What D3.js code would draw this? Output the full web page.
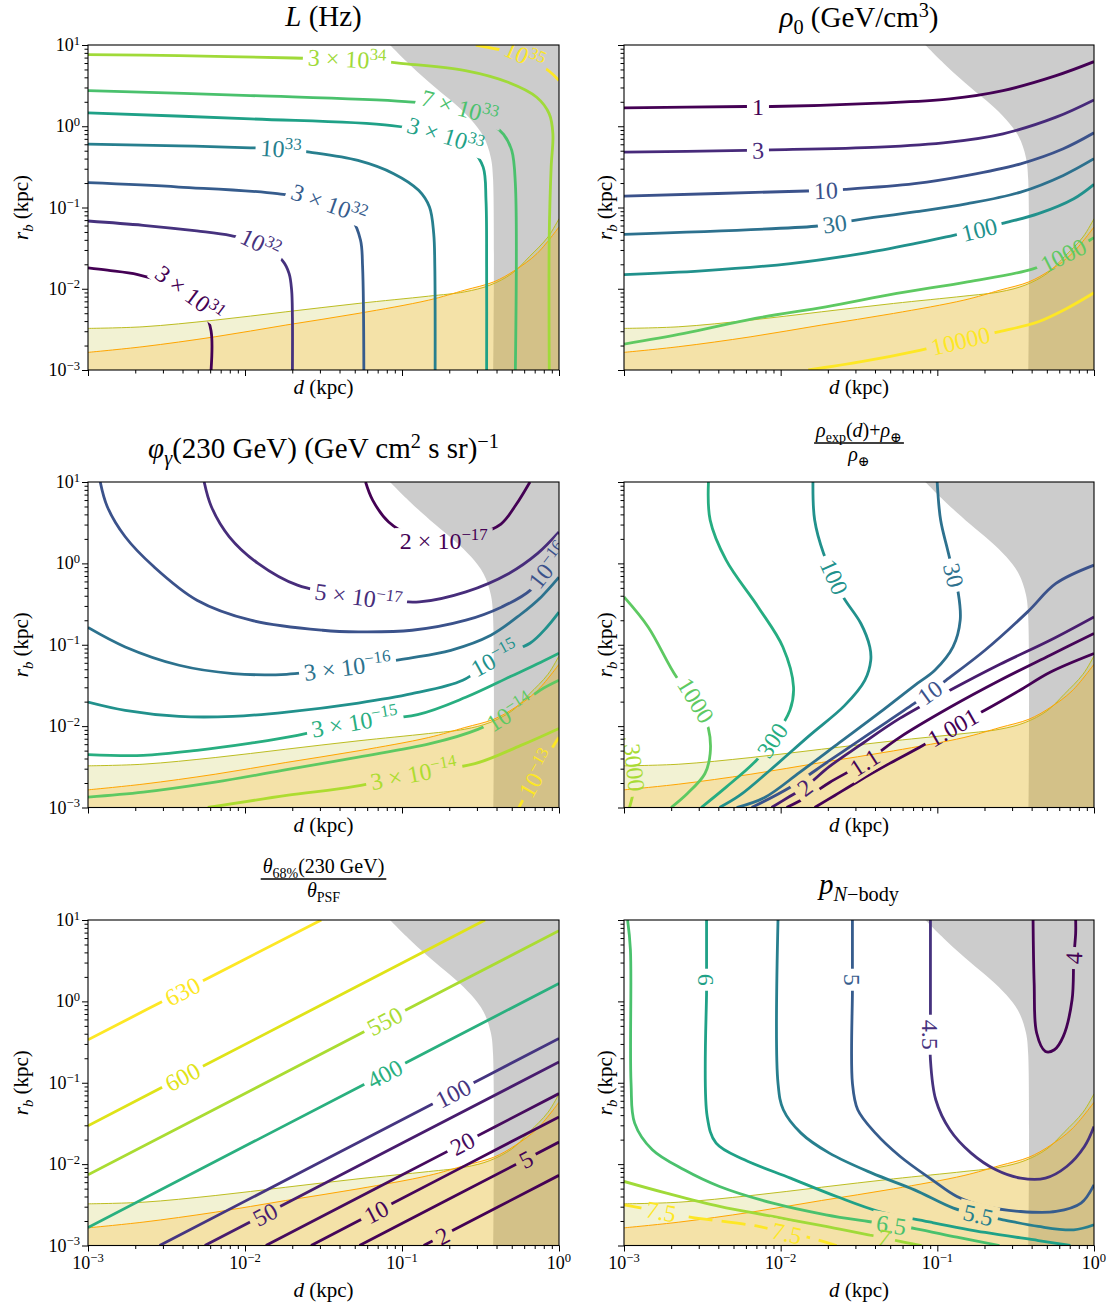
<!DOCTYPE html>
<html>
<head>
<meta charset="utf-8">
<script src="https://cdn.jsdelivr.net/npm/d3@7"></script>
<style>
  body { margin: 0; background: #fff; }
</style>
</head>
<body>
<svg id="chart" width="1116" height="1309"></svg>
<script>
// axis ranges (kpc)
const dDomain = [1e-3, 1];
const rbDomain = [1e-3, 10];
const xTickExp = [-3, -2, -1, 0];
const yTickExp = [-3, -2, -1, 0, 1];

// shaded regions, points are [log10 d, log10 rb]
const grayEdge = [[-1.077, 1], [-0.94, 0.74], [-0.79, 0.48], [-0.66, 0.27], [-0.56, 0.08], [-0.48, -0.13], [-0.435, -0.38], [-0.42, -0.65], [-0.418, -3]];
const oliveEdge = [[-3, -2.488], [-2.65, -2.468], [-2.19, -2.386], [-1.74, -2.284], [-1.28, -2.181], [-0.83, -2.091], [-0.60, -2.038], [-0.44, -1.956], [-0.30, -1.813], [-0.19, -1.608], [-0.07, -1.362], [0, -1.137]];
const orangeEdge = [[-3, -2.783], [-2.65, -2.713], [-2.19, -2.591], [-1.74, -2.447], [-1.28, -2.304], [-0.83, -2.140], [-0.60, -2.017], [-0.415, -1.915], [-0.28, -1.772], [-0.14, -1.567], [0, -1.240]];

// ---- L (Hz)
const lumLevels = [3e31, 1e32, 3e32, 1e33, 3e33, 7e33, 3e34, 1e35];
const lumText = [['3 × 10', '31'], ['10', '32'], ['3 × 10', '32'], ['10', '33'], ['3 × 10', '33'], ['7 × 10', '33'], ['3 × 10', '34'], ['10', '35']];
const lumAt = [[4], [4], [3], [3], [3], [3], [3], [2]];
const lumPaths = [
  [[-3, -1.743], [-2.877, -1.772], [-2.683, -1.825], [-2.49, -1.936], [-2.353, -2.058], [-2.262, -2.263], [-2.216, -2.521], [-2.216, -3]],
  [[-3, -1.166], [-2.649, -1.219], [-2.307, -1.289], [-2.090, -1.346], [-1.901, -1.444], [-1.760, -1.657], [-1.719, -1.813], [-1.703, -2.017], [-1.698, -2.345], [-1.698, -3]],
  [[-3, -0.695], [-2.421, -0.748], [-1.794, -0.830], [-1.464, -0.953], [-1.316, -1.158], [-1.264, -1.403], [-1.251, -1.731], [-1.243, -3]],
  [[-3, -0.220], [-2.421, -0.241], [-1.965, -0.265], [-1.771, -0.277], [-1.589, -0.318], [-1.281, -0.421], [-1.053, -0.584], [-0.894, -0.789], [-0.825, -0.994], [-0.798, -1.321], [-0.791, -1.731], [-0.789, -3]],
  [[-3, 0.165], [-1.965, 0.091], [-1.065, 0.009], [-0.723, -0.114], [-0.552, -0.298], [-0.483, -0.503], [-0.465, -0.912], [-0.461, -1.731], [-0.461, -3]],
  [[-3, 0.439], [-1.965, 0.378], [-0.978, 0.304], [-0.632, 0.234], [-0.415, 0.009], [-0.353, -0.101], [-0.301, -0.298], [-0.278, -0.707], [-0.278, -3]],
  [[-3, 0.881], [-2.421, 0.869], [-1.692, 0.840], [-1.350, 0.828], [-1.008, 0.775], [-0.597, 0.685], [-0.324, 0.541], [-0.142, 0.357], [-0.062, 0.152], [-0.039, -0.093], [-0.050, -0.503], [-0.062, -1.321], [-0.062, -3]],
  [[-0.53, 1], [-0.370, 0.939], [-0.221, 0.869], [-0.062, 0.677], [0, 0.562]]
];

// ---- rho_0 (GeV/cm^3)
const rhoLevels = [1, 3, 10, 30, 100, 1000, 10000];
const rhoText = [['1'], ['3'], ['10'], ['30'], ['100'], ['1000'], ['10000']];
const rhoAt = [[2], [2], [2], [2], [6], [7], [3]];
const rhoPaths = [
  [[-3, 0.226], [-2.220, 0.243], [-2.145, 0.243], [-2.057, 0.243], [-1.372, 0.284], [-0.920, 0.337], [-0.581, 0.439], [-0.242, 0.623], [0, 0.795]],
  [[-3, -0.318], [-2.220, -0.298], [-2.145, -0.294], [-2.057, -0.290], [-1.372, -0.257], [-0.920, -0.195], [-0.581, -0.093], [-0.242, 0.112], [0, 0.324]],
  [[-3, -0.859], [-1.836, -0.797], [-1.711, -0.789], [-1.587, -0.777], [-1.146, -0.707], [-0.807, -0.605], [-0.468, -0.462], [-0.196, -0.277], [0, -0.081]],
  [[-3, -1.330], [-1.779, -1.231], [-1.655, -1.199], [-1.530, -1.158], [-1.146, -1.055], [-0.807, -0.953], [-0.468, -0.810], [-0.196, -0.605], [0, -0.400]],
  [[-3, -1.825], [-2.503, -1.780], [-1.937, -1.690], [-1.485, -1.567], [-1.146, -1.444], [-0.897, -1.342], [-0.732, -1.272], [-0.570, -1.190], [-0.355, -1.076], [-0.129, -0.892], [0, -0.715]],
  [[-3, -2.681], [-2.616, -2.550], [-2.163, -2.365], [-1.711, -2.222], [-1.259, -2.058], [-0.807, -1.915], [-0.389, -1.755], [-0.196, -1.588], [-0.027, -1.403], [0, -1.371]],
  [[-1.824, -3], [-1.485, -2.898], [-1.105, -2.754], [-0.852, -2.640], [-0.603, -2.529], [-0.355, -2.406], [-0.174, -2.243], [0, -2.050]]
];

// ---- phi_gamma(230 GeV)
const phiLevels = [2e-17, 5e-17, 1e-16, 3e-16, 1e-15, 3e-15, 1e-14, 3e-14, 1e-13];
const phiText = [['2 × 10', '−17'], ['5 × 10', '−17'], ['10', '−16'], ['3 × 10', '−16'], ['10', '−15'], ['3 × 10', '−15'], ['10', '−14'], ['3 × 10', '−14'], ['10', '−13']];
const phiAt = [[4], [5], [12], [5], [8], [5], [7], [3], [1]];
const phiPaths = [
  [[-1.232, 1], [-1.187, 0.778], [-1.085, 0.508], [-0.945, 0.348], [-0.734, 0.286], [-0.530, 0.348], [-0.370, 0.483], [-0.275, 0.717], [-0.185, 1]],
  [[-2.260, 1], [-2.214, 0.696], [-2.100, 0.327], [-1.917, 0.0], [-1.666, -0.268], [-1.278, -0.412], [-0.890, -0.473], [-0.593, -0.350], [-0.319, -0.124], [-0.136, 0.122], [0, 0.385]],
  [[-2.922, 1], [-2.877, 0.696], [-2.763, 0.327], [-2.580, -0.042], [-2.306, -0.452], [-1.963, -0.698], [-1.506, -0.822], [-1.278, -0.842], [-0.936, -0.822], [-0.593, -0.698], [-0.364, -0.535], [-0.182, -0.329], [-0.066, -0.025], [0, 0.122]],
  [[-3, -0.788], [-2.763, -1.027], [-2.420, -1.252], [-2.077, -1.354], [-1.735, -1.363], [-1.347, -1.273], [-0.958, -1.166], [-0.689, -1.068], [-0.434, -0.883], [-0.243, -0.625], [-0.115, -0.415], [0, -0.169]],
  [[-3, -1.704], [-2.763, -1.806], [-2.420, -1.880], [-2.077, -1.880], [-1.735, -1.827], [-1.278, -1.716], [-0.936, -1.601], [-0.613, -1.437], [-0.409, -1.166], [-0.185, -0.982], [-0.083, -0.797], [0, -0.600]],
  [[-3, -2.351], [-2.648, -2.360], [-2.306, -2.298], [-1.963, -2.209], [-1.666, -2.114], [-1.301, -1.950], [-0.901, -1.859], [-0.594, -1.646], [-0.306, -1.388], [-0.115, -1.215], [0, -1.105]],
  [[-3, -2.873], [-2.648, -2.812], [-2.191, -2.689], [-1.735, -2.536], [-1.278, -2.381], [-0.821, -2.216], [-0.517, -2.040], [-0.313, -1.831], [-0.121, -1.560], [0, -1.437]],
  [[-2.237, -3], [-1.735, -2.852], [-1.301, -2.741], [-0.924, -2.585], [-0.536, -2.462], [-0.243, -2.237], [0, -2.028]],
  [[-0.255, -3], [-0.140, -2.582], [-0.026, -2.212], [0, -2.138]]
];

// ---- (rho_exp(d) + rho_earth) / rho_earth
const ratioLevels = [1.001, 1.1, 2, 10, 30, 100, 300, 1000, 3000];
const ratioText = [['1.001'], ['1.1'], ['2'], ['10'], ['30'], ['100'], ['300'], ['1000'], ['3000']];
const ratioAt = [[4], [5], [7], [5], [3], [3], [7], [3], [2]];
const ratioPaths = [
  [[0, -1.108], [-0.280, -1.338], [-0.473, -1.560], [-0.697, -1.806], [-0.901, -2.015], [-1.093, -2.237], [-1.304, -2.458], [-1.496, -2.668], [-1.655, -2.852], [-1.783, -3]],
  [[0, -0.862], [-0.280, -1.129], [-0.600, -1.437], [-0.919, -1.769], [-1.240, -2.138], [-1.464, -2.446], [-1.688, -2.692], [-1.815, -2.852], [-1.962, -3]],
  [[0, -0.658], [-0.280, -0.945], [-0.600, -1.240], [-0.919, -1.560], [-1.240, -1.905], [-1.496, -2.237], [-1.688, -2.495], [-1.847, -2.754], [-1.943, -2.865], [-2.058, -3]],
  [[0, -0.022], [-0.243, -0.247], [-0.424, -0.596], [-0.696, -1.068], [-0.945, -1.437], [-1.048, -1.585], [-1.149, -1.724], [-1.431, -2.089], [-1.687, -2.422], [-1.942, -2.754], [-2.185, -3]],
  [[-1.001, 1], [-0.979, 0.532], [-0.934, 0.163], [-0.895, -0.145], [-0.866, -0.370], [-0.854, -0.698], [-0.900, -1.027], [-1.016, -1.314], [-1.144, -1.498], [-1.367, -1.831], [-1.623, -2.200], [-1.879, -2.569], [-2.102, -2.877], [-2.281, -3]],
  [[-1.794, 1], [-1.783, 0.532], [-1.726, 0.122], [-1.658, -0.166], [-1.601, -0.412], [-1.488, -0.739], [-1.431, -1.027], [-1.425, -1.191], [-1.463, -1.437], [-1.591, -1.745], [-1.815, -2.114], [-2.070, -2.545], [-2.262, -2.852], [-2.390, -3]],
  [[-2.461, 1], [-2.450, 0.532], [-2.348, 0.040], [-2.144, -0.535], [-1.986, -1.027], [-1.918, -1.519], [-1.941, -1.806], [-2.054, -2.175], [-2.156, -2.422], [-2.348, -2.750], [-2.507, -3]],
  [[-3, -0.412], [-2.846, -0.781], [-2.665, -1.396], [-2.541, -1.683], [-2.461, -2.031], [-2.450, -2.339], [-2.484, -2.585], [-2.597, -2.831], [-2.699, -3]],
  [[-3, -2.151], [-2.965, -2.323], [-2.933, -2.508], [-2.939, -2.791], [-2.965, -3]]
];

// ---- theta_68%(230 GeV) / theta_PSF
const thetaLevels = [2, 5, 10, 20, 50, 100, 400, 550, 600, 630];
const thetaText = [['2'], ['5'], ['10'], ['20'], ['50'], ['100'], ['400'], ['550'], ['600'], ['630']];
const thetaAt = [[1], [1], [1], [1], [1], [1], [1], [1], [1], [1]];
const thetaPaths = [
  [[-0.862, -3], [-0.743, -2.881], [0, -2.138]],
  [[-1.271, -3], [-0.211, -1.940], [0, -1.729]],
  [[-1.579, -3], [-1.164, -2.585], [0, -1.421]],
  [[-1.867, -3], [-0.615, -1.748], [0, -1.133]],
  [[-2.256, -3], [-1.872, -2.616], [0, -0.744]],
  [[-2.544, -3], [-0.674, -1.130], [0, -0.456]],
  [[-3, -2.779], [-1.110, -0.889], [0, 0.221]],
  [[-3, -2.131], [-1.110, -0.241], [0, 0.869]],
  [[-3, -1.529], [-2.398, -0.927], [-0.471, 1]],
  [[-3, -0.471], [-2.398, 0.125], [-1.514, 1]]
];

// ---- p_N-body
const nbodyLevels = [4, 4.5, 5, 5.5, 6, 6.5, 7, 7.5];
const nbodyText = [['4'], ['4.5'], ['5'], ['5.5'], ['6'], ['6.5'], ['7'], ['7.5']];
const nbodyAt = [[7], [2], [2], [8], [2], [10], [6], [2, 5]];
const nbodyDashed = [7.5];
const nbodyPaths = [
  [[-0.389, 1], [-0.382, 0.225], [-0.366, -0.389], [-0.310, -0.615], [-0.253, -0.594], [-0.196, -0.430], [-0.140, 0.020], [-0.129, 0.533], [-0.117, 0.840], [-0.117, 1]],
  [[-1.044, 1], [-1.044, -0.102], [-1.044, -0.410], [-1.044, -0.717], [-1.010, -1.209], [-0.920, -1.578], [-0.784, -1.865], [-0.626, -2.070], [-0.468, -2.172], [-0.310, -2.172], [-0.174, -2.029], [-0.061, -1.783], [0, -1.537]],
  [[-1.542, 1], [-1.542, 0.430], [-1.542, 0.266], [-1.542, 0.102], [-1.542, -1.004], [-1.508, -1.332], [-1.395, -1.619], [-1.237, -1.906], [-1.033, -2.193], [-0.875, -2.398], [-0.694, -2.520], [-0.468, -2.582], [-0.242, -2.582], [-0.083, -2.480], [0, -2.254]],
  [[-2.017, 1], [-2.017, -1.004], [-1.983, -1.332], [-1.870, -1.619], [-1.689, -1.865], [-1.417, -2.111], [-1.146, -2.316], [-0.897, -2.541], [-0.739, -2.623], [-0.581, -2.684], [-0.355, -2.766], [-0.129, -2.807], [0, -2.746]],
  [[-2.473, 1], [-2.473, 0.389], [-2.473, 0.266], [-2.473, 0.123], [-2.469, -1.414], [-2.412, -1.742], [-2.231, -1.947], [-1.937, -2.172], [-1.643, -2.398], [-1.372, -2.582], [-1.033, -2.717], [-0.694, -2.840], [-0.355, -2.939], [-0.151, -3]],
  [[-2.977, 1], [-2.959, 0.635], [-2.955, -1.004], [-2.932, -1.496], [-2.819, -1.824], [-2.616, -2.070], [-2.390, -2.275], [-2.050, -2.480], [-1.711, -2.623], [-1.440, -2.705], [-1.293, -2.746], [-1.135, -2.795], [-0.875, -2.898], [-0.603, -3]],
  [[-3, -2.213], [-2.729, -2.357], [-2.390, -2.520], [-2.050, -2.643], [-1.711, -2.766], [-1.440, -2.869], [-1.338, -2.902], [-1.282, -2.930], [-1.101, -3]],
  [[-3, -2.500], [-2.921, -2.529], [-2.763, -2.582], [-2.604, -2.643], [-2.141, -2.766], [-1.960, -2.848], [-1.802, -2.910], [-1.643, -3]]
];

const W = 1116, H = 1309;
const FONT = '"Liberation Serif", "DejaVu Serif", serif';
const LS = 24;   // contour label size
const svg = d3.select('#chart').attr('font-family', FONT);

const cols = [[88, 559], [624, 1094]];
const rows = [[45, 370], [482, 807.5], [920, 1245.5]];

const byIndex = (v, i, n) => i / (n - 1);
const byLog4 = v => Math.log10(v) / 4;

const panels = [
  { c: 0, r: 0, levels: lumLevels, text: lumText, at: lumAt, paths: lumPaths, norm: byIndex },
  { c: 1, r: 0, levels: rhoLevels, text: rhoText, at: rhoAt, paths: rhoPaths, norm: byLog4 },
  { c: 0, r: 1, levels: phiLevels, text: phiText, at: phiAt, paths: phiPaths, norm: byIndex },
  { c: 1, r: 1, levels: ratioLevels, text: ratioText, at: ratioAt, paths: ratioPaths, norm: byLog4 },
  { c: 0, r: 2, levels: thetaLevels, text: thetaText, at: thetaAt, paths: thetaPaths, norm: v => (v - 2) / 628 },
  { c: 1, r: 2, levels: nbodyLevels, text: nbodyText, at: nbodyAt, paths: nbodyPaths, norm: byIndex, dashed: nbodyDashed }
];

// rich text: parts are strings or [text, mode], mode: i italic, b subscript, p superscript
function rich(sel, parts, size) {
  let off = 0;
  parts.forEach(p => {
    const [t, mode] = typeof p === 'string' ? [p, ''] : p;
    const target = mode.includes('b') ? 0.25 * size : mode.includes('p') ? -0.36 * size : 0;
    const s = sel.append('tspan').text(t);
    if (target !== off) { s.attr('dy', target - off); off = target; }
    if (mode.includes('b') || mode.includes('p')) s.attr('font-size', 0.7 * size);
    if (mode.includes('i')) s.attr('font-style', 'italic');
  });
  return sel;
}

function addText(x, y, parts, size, anchor) {
  const t = svg.append('text').attr('x', x).attr('y', y)
    .attr('font-size', size).attr('text-anchor', anchor || 'middle');
  return rich(t, parts, size);
}

function addFraction(cx, yNum, yBar, yDen, num, den, size) {
  const t = addText(cx, yNum, num, size);
  addText(cx, yDen, den, size);
  const w = t.node().getComputedTextLength();
  svg.append('line').attr('x1', cx - w / 2 - 2).attr('x2', cx + w / 2 + 2)
    .attr('y1', yBar).attr('y2', yBar).attr('stroke', '#000').attr('stroke-width', 1.4);
}

const expText = e => (e < 0 ? '−' + (-e) : '' + e);
const minorTicks = (lo, hi) => d3.range(lo, hi).flatMap(e => d3.range(2, 10).map(k => k * 10 ** e));
const smooth = d3.line().curve(d3.curveCatmullRom.alpha(0.5));

panels.forEach((p, pi) => {
  const [x0, x1] = cols[p.c], [y0, y1] = rows[p.r];
  const x = d3.scaleLog().domain(dDomain).range([x0, x1]);
  const y = d3.scaleLog().domain(rbDomain).range([y1, y0]);
  const P = q => [x(10 ** q[0]), y(10 ** q[1])];

  const g = svg.append('g');
  const defs = g.append('defs');
  defs.append('clipPath').attr('id', 'clip' + pi)
    .append('rect').attr('x', x0).attr('y', y0).attr('width', x1 - x0).attr('height', y1 - y0);
  const mask = defs.append('mask').attr('id', 'mask' + pi)
    .attr('maskUnits', 'userSpaceOnUse').attr('x', 0).attr('y', 0).attr('width', W).attr('height', H);
  mask.append('rect').attr('width', W).attr('height', H).attr('fill', '#fff');

  const body = g.append('g').attr('clip-path', `url(#clip${pi})`);

  // gray excluded region
  body.append('path')
    .attr('d', smooth(grayEdge.map(P)) + `L${x(1)},${y(1e-3)}L${x(1)},${y(10)}Z`)
    .attr('fill', '#cccccc');

  // yellow bands
  const band = d3.area().curve(d3.curveCatmullRom.alpha(0.5))
    .x(q => q[0]).y0(y(1e-3)).y1(q => q[1]);
  [[oliveEdge, '#bcbd22'], [orangeEdge, '#ffa500']].forEach(([e, c]) => {
    const pts = e.map(P);
    body.append('path').attr('d', band(pts)).attr('fill', c).attr('fill-opacity', 0.2);
    body.append('path').attr('d', smooth(pts)).attr('fill', 'none').attr('stroke', c).attr('stroke-width', 1);
  });

  // contours
  const lines = body.append('g').attr('mask', `url(#mask${pi})`);
  const labs = body.append('g');
  p.paths.forEach((pts, i) => {
    const col = d3.interpolateViridis(p.norm(p.levels[i], i, p.levels.length));
    const sp = pts.map(P);
    lines.append('path').attr('d', smooth(sp))
      .attr('fill', 'none').attr('stroke', col).attr('stroke-width', 2.8)
      .attr('stroke-dasharray', p.dashed && p.dashed.includes(p.levels[i]) ? '24,9' : null);

    p.at[i].forEach(k => {
      const [sx, sy] = sp[k];
      const a = sp[Math.max(k - 1, 0)], b = sp[Math.min(k + 1, sp.length - 1)];
      let ang = Math.atan2(b[1] - a[1], b[0] - a[0]) * 180 / Math.PI;
      if (ang > 90) ang -= 180;
      if (ang < -90) ang += 180;
      const tr = `translate(${sx},${sy}) rotate(${ang})`;
      const lt = p.text[i];
      const parts = lt.length > 1 ? [lt[0], [lt[1], 'p']] : [lt[0]];
      const t = labs.append('text').attr('transform', tr).attr('text-anchor', 'middle')
        .attr('dy', '0.35em').attr('font-size', LS).attr('fill', col);
      rich(t, parts, LS);
      const w = t.node().getComputedTextLength();
      mask.append('rect').attr('transform', tr)
        .attr('x', -w / 2 - 5).attr('y', -LS * 0.5).attr('width', w + 10).attr('height', LS)
        .attr('fill', '#000');
    });
  });

  // axes
  const ax = g.append('g').attr('transform', `translate(0,${y1})`);
  ax.append('g').call(d3.axisBottom(x).tickValues(xTickExp.map(e => 10 ** e)).tickSize(6).tickFormat(''));
  ax.append('g').call(d3.axisBottom(x).tickValues(minorTicks(-3, 0)).tickSize(3.5).tickFormat(''));
  const ay = g.append('g').attr('transform', `translate(${x0},0)`);
  ay.append('g').call(d3.axisLeft(y).tickValues(yTickExp.map(e => 10 ** e)).tickSize(6).tickFormat(''));
  ay.append('g').call(d3.axisLeft(y).tickValues(minorTicks(-3, 1)).tickSize(3.5).tickFormat(''));
  g.selectAll('.domain').remove();
  g.selectAll('.tick line').attr('stroke', '#000').attr('stroke-width', 1);

  g.append('rect').attr('x', x0).attr('y', y0).attr('width', x1 - x0).attr('height', y1 - y0)
    .attr('fill', 'none').attr('stroke', '#000').attr('stroke-width', 1.1);

  if (p.r === 2) {
    xTickExp.forEach(e => addText(x(10 ** e), y1 + 23, ['10', [expText(e), 'p']], 18));
  }
  if (p.c === 0) {
    yTickExp.forEach(e => addText(x0 - 8, y(10 ** e) + 6, ['10', [expText(e), 'p']], 18, 'end'));
  }

  // axis titles
  addText((x0 + x1) / 2, p.r === 2 ? y1 + 51 : y1 + 24, [['d', 'i'], ' (kpc)'], 21);
  const ry = svg.append('text').attr('transform', `translate(${p.c === 0 ? 28 : 612},${(y0 + y1) / 2}) rotate(-90)`)
    .attr('text-anchor', 'middle').attr('font-size', 21);
  rich(ry, [['r', 'i'], ['b', 'ib'], ' (kpc)'], 21);
});

// panel titles
addText(323.5, 26, [['L', 'i'], ' (Hz)'], 29);
addText(859, 27, [['ρ', 'i'], ['0', 'b'], ' (GeV/cm', ['3', 'p'], ')'], 29);
addText(323.5, 458, [['φ', 'i'], ['γ', 'ib'], '(230 GeV) (GeV cm', ['2', 'p'], ' s sr)', ['−1', 'p']], 29);
addFraction(859, 437, 443, 461,
  [['ρ', 'i'], ['exp', 'b'], '(', ['d', 'i'], ')+', ['ρ', 'i'], ['⊕', 'b']],
  [['ρ', 'i'], ['⊕', 'b']], 20);
addFraction(323.5, 873, 879, 897,
  [['θ', 'i'], ['68%', 'b'], '(230 GeV)'],
  [['θ', 'i'], ['PSF', 'b']], 20);
addText(859, 894, [['p', 'i'], ['N', 'ib'], ['−body', 'b']], 29);
</script>
</body>
</html>
